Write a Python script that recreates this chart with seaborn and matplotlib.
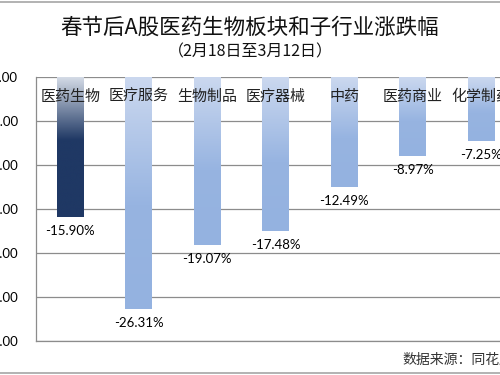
import numpy as np
import pandas as pd
import matplotlib
matplotlib.use("Agg")
import matplotlib.pyplot as plt
import seaborn as sns
from matplotlib.colors import LinearSegmentedColormap
from matplotlib.lines import Line2D

# data
industries = ["医药生物", "医疗服务", "生物制品", "医疗器械", "中药", "医药商业", "化学制药"]
changes = [-15.90, -26.31, -19.07, -17.48, -12.49, -8.97, -7.25]
y_ticks = [0, -5, -10, -15, -20, -25, -30]

df = pd.DataFrame({"industry": industries, "change": changes})

sns.set_theme(style="white")
plt.rcParams["font.family"] = ["Noto Sans CJK SC", "DejaVu Sans"]

fig = plt.figure(figsize=(5, 3.75), dpi=100)
# plot area runs past the right edge, as in the cropped screenshot
ax = fig.add_axes([0.072, 0.0907, 0.959, 0.704])

sns.barplot(data=df, x="industry", y="change", color="#95b3e0",
            width=0.39, ax=ax, zorder=2)

# vertical gradient fill, light at the zero line
grad = np.linspace(0, 1, 256).reshape(-1, 1)
for i, patch in enumerate(ax.patches):
    x0, w, h = patch.get_x(), patch.get_width(), patch.get_height()
    if i == 0:
        cmap = LinearSegmentedColormap.from_list(
            "g0", [(0, "#d4dbe6"), (0.45, "#1f3864"), (1, "#1f3864")])
    else:
        cmap = LinearSegmentedColormap.from_list(
            "g1", [(0, "#cbd8ef"), (0.55, "#97b4e1"), (1, "#94b2e0")])
    im = ax.imshow(grad, cmap=cmap, extent=[x0, x0 + w, h, 0],
                   origin="upper", aspect="auto", zorder=2)
    im.set_clip_path(patch)
    patch.set_facecolor("none")
    patch.set_edgecolor("none")

ax.set_xlim(-0.5, len(industries) - 0.5)
ax.set_ylim(-30, 0)
ax.set_yticks(y_ticks)
ax.set_yticklabels([f"{v:.2f}" for v in y_ticks], family="Lato", fontsize=9.5)
ax.tick_params(axis="y", length=0, pad=13, colors="black")
ax.set_xticks([])
ax.set_xlabel("")
ax.set_ylabel("")
ax.yaxis.grid(True, color="#8c8c8c", linewidth=0.9, zorder=0)
ax.set_axisbelow(True)
for side in ["top", "right"]:
    ax.spines[side].set_visible(False)
for side in ["left", "bottom"]:
    ax.spines[side].set_color("#8c8c8c")
    ax.spines[side].set_linewidth(0.9)

# category names just under the zero line, value labels under each bar
for i, (name, val) in enumerate(zip(industries, changes)):
    ax.text(i, -2.3, name, ha="center", va="center", fontsize=10.8,
            color="#222222", zorder=4)
    ax.text(i, val - 1.65, f"{val:.2f}%", ha="center", va="center",
            family="Lato", fontsize=9.5, color="black", zorder=4)

fig.text(0.5, 1 - 28 / 375, "春节后A股医药生物板块和子行业涨跌幅",
         ha="center", va="center", fontsize=15.5, color="#111111")
fig.text(0.5, 1 - 52 / 375, "（2月18日至3月12日）",
         ha="center", va="center", fontsize=11.5, color="#111111")
fig.text(402 / 500, 1 - 360 / 375, "数据来源：同花顺",
         ha="left", va="center", fontsize=10, color="#333333")

# outer chart border lines of the screenshot
for yy in [1 - 1.5 / 375, 1 - 372.5 / 375]:
    fig.add_artist(Line2D([0, 1], [yy, yy], transform=fig.transFigure,
                          color="#a6a6a6", linewidth=1.2))

fig.savefig("out.png", dpi=100)
